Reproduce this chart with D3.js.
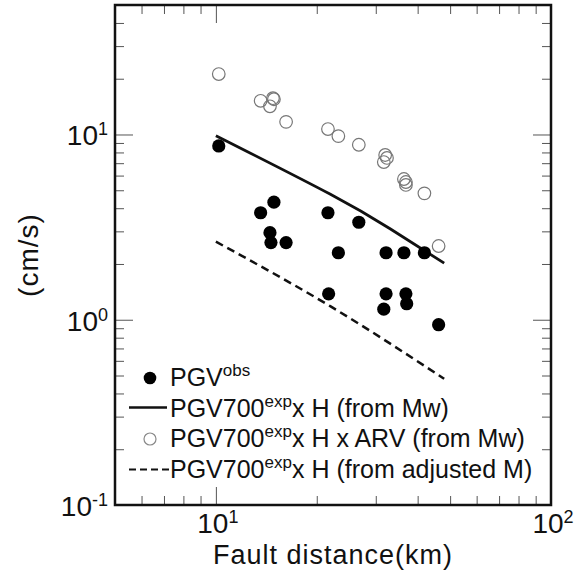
<!DOCTYPE html>
<html>
<head>
<meta charset="utf-8">
<script src="https://cdn.jsdelivr.net/npm/d3@7"></script>
<style>
  body { margin: 0; background: #fff; }
  svg text { font-family: Arial, "Liberation Sans", sans-serif; fill: #111; }
</style>
</head>
<body>
<script>
// observed PGV (filled circles)
var obsDist = [10.2, 13.6, 14.9, 14.5, 14.6, 16.2, 21.6, 23.2, 26.7, 32.2, 36.4, 41.9, 21.7, 32.2, 36.9, 37.1, 31.7, 46.2]
var obsPGV  = [8.67, 3.78, 4.31, 2.95, 2.61, 2.61, 3.78, 2.30, 3.36, 2.30, 2.30, 2.30, 1.38, 1.38, 1.38, 1.22, 1.14, 0.94]

// PGV700exp x H x ARV (open circles)
var arvDist = [10.2, 13.6, 14.8, 14.9, 14.5, 16.2, 21.6, 23.2, 26.7, 32.0, 31.7, 32.4, 36.4, 36.9, 36.9, 41.9, 46.2]
var arvPGV  = [21.2, 15.2, 15.7, 15.5, 14.2, 11.7, 10.7, 9.8, 8.8, 7.75, 7.1, 7.47, 5.75, 5.54, 5.34, 4.81, 2.50]

// PGV700exp x H from Mw (solid line)
var mwDist = [10, 21.9, 33.1, 48]
var mwPGV  = [9.85, 4.77, 3.1, 2.02]

// PGV700exp x H from adjusted M (dashed line)
var adjDist = [10, 22, 48]
var adjPGV  = [2.64, 1.18, 0.48]

var xMajor = [10, 100]
var xMinor = [6, 7, 8, 9, 20, 30, 40, 50, 60, 70, 80, 90]
var yMajor = [0.1, 1, 10]
var yMinor = [0.2, 0.3, 0.4, 0.5, 0.6, 0.7, 0.8, 0.9, 2, 3, 4, 5, 6, 7, 8, 9, 20, 30, 40]

var legendLabels = [
  ["PGV", "obs", ""],
  ["PGV700", "exp", "x H (from Mw)"],
  ["PGV700", "exp", "x H x ARV (from Mw)"],
  ["PGV700", "exp", "x H (from adjusted M)"]
]

var width = 584
var height = 574
var plotL = 115, plotR = 551, plotT = 5, plotB = 505

var svg = d3.select("body")
            .append("svg")
            .attr("width", width)
            .attr("height", height)

var xScale = d3.scaleLog()
               .domain([5, 100])
               .range([plotL, plotR])

var yScale = d3.scaleLog()
               .domain([0.1, 50])
               .range([plotB, plotT])

// ticks, inward on all four sides
var drawTicks = function(axis, values, size, transform){
  var g = svg.append("g")
             .attr("class", "axis")
             .attr("transform", transform)
             .call(axis.tickValues(values)
                       .tickSize(-size)
                       .tickFormat(""))
  g.select(".domain").remove()
  g.selectAll("line").attr("stroke", "#555").attr("stroke-width", 1)
}

drawTicks(d3.axisBottom(xScale), xMinor, 9, "translate(0," + plotB + ")")
drawTicks(d3.axisBottom(xScale), [10], 18, "translate(0," + plotB + ")")
drawTicks(d3.axisTop(xScale), xMinor, 9, "translate(0," + plotT + ")")
drawTicks(d3.axisTop(xScale), [10], 18, "translate(0," + plotT + ")")
drawTicks(d3.axisLeft(yScale), yMinor, 9, "translate(" + plotL + ",0)")
drawTicks(d3.axisLeft(yScale), [1, 10], 18, "translate(" + plotL + ",0)")
drawTicks(d3.axisRight(yScale), yMinor, 9, "translate(" + plotR + ",0)")
drawTicks(d3.axisRight(yScale), [1, 10], 18, "translate(" + plotR + ",0)")

// frame
svg.append("rect")
   .attr("x", plotL)
   .attr("y", plotT)
   .attr("width", plotR - plotL)
   .attr("height", plotB - plotT)
   .attr("fill", "none")
   .attr("stroke", "#111")
   .attr("stroke-width", 2.5)

// tick labels with superscript exponents
var powerLabel = function(sel){
  sel.append("tspan").text("10")
  sel.append("tspan")
     .attr("dy", -10)
     .attr("font-size", 18)
     .text(function(d){ return String(Math.round(Math.log10(d))) })
}

svg.selectAll(".xlab")
   .data(xMajor)
   .enter()
   .append("text")
   .attr("class", "xlab")
   .attr("x", function(d){ return xScale(d) + 2 })
   .attr("y", 533)
   .attr("text-anchor", "middle")
   .attr("font-size", 28)
   .call(powerLabel)

svg.selectAll(".ylab")
   .data(yMajor)
   .enter()
   .append("text")
   .attr("class", "ylab")
   .attr("x", 108)
   .attr("y", function(d){ return yScale(d) + 11 })
   .attr("text-anchor", "end")
   .attr("font-size", 28)
   .call(powerLabel)

// axis titles
svg.append("text")
   .attr("x", (plotL + plotR) / 2)
   .attr("y", 564)
   .attr("text-anchor", "middle")
   .attr("font-size", 27)
   .attr("letter-spacing", 1)
   .text("Fault distance(km)")

svg.append("text")
   .attr("transform", "translate(38," + ((plotT + plotB) / 2) + ") rotate(-90)")
   .attr("text-anchor", "middle")
   .attr("font-size", 28)
   .attr("letter-spacing", 1)
   .text("(cm/s)")

// lines
var line = d3.line()
             .curve(d3.curveNatural)
             .x(function(d){ return xScale(d[0]) })
             .y(function(d){ return yScale(d[1]) })

svg.append("path")
   .datum(d3.zip(mwDist, mwPGV))
   .attr("d", line)
   .attr("fill", "none")
   .attr("stroke", "#111")
   .attr("stroke-width", 2.8)

svg.append("path")
   .datum(d3.zip(adjDist, adjPGV))
   .attr("d", line)
   .attr("fill", "none")
   .attr("stroke", "#111")
   .attr("stroke-width", 2.5)
   .attr("stroke-dasharray", "8,5")

// open circles
svg.selectAll(".arv")
   .data(d3.zip(arvDist, arvPGV))
   .enter()
   .append("circle")
   .attr("class", "arv")
   .attr("cx", function(d){ return xScale(d[0]) })
   .attr("cy", function(d){ return yScale(d[1]) })
   .attr("r", 6.3)
   .attr("fill", "none")
   .attr("stroke", "#777")
   .attr("stroke-width", 1.2)

// filled circles
svg.selectAll(".obs")
   .data(d3.zip(obsDist, obsPGV))
   .enter()
   .append("circle")
   .attr("class", "obs")
   .attr("cx", function(d){ return xScale(d[0]) })
   .attr("cy", function(d){ return yScale(d[1]) })
   .attr("r", 6.6)
   .attr("fill", "#000")

// legend
var legY = [386, 416.5, 447, 477.5]
var leg = svg.append("g")

leg.append("circle").attr("cx", 150).attr("cy", legY[0] - 8).attr("r", 6.3).attr("fill", "#000")
leg.append("line").attr("x1", 129).attr("x2", 167).attr("y1", legY[1] - 9).attr("y2", legY[1] - 9)
   .attr("stroke", "#111").attr("stroke-width", 2.5)
leg.append("circle").attr("cx", 150).attr("cy", legY[2] - 8).attr("r", 6).attr("fill", "none")
   .attr("stroke", "#888").attr("stroke-width", 1.2)
leg.append("line").attr("x1", 129).attr("x2", 169).attr("y1", legY[3] - 8).attr("y2", legY[3] - 8)
   .attr("stroke", "#111").attr("stroke-width", 2).attr("stroke-dasharray", "7,4")

leg.selectAll("text")
   .data(legendLabels)
   .enter()
   .append("text")
   .attr("x", 170)
   .attr("y", function(d, i){ return legY[i] })
   .attr("font-size", 25)
   .each(function(d){
     var t = d3.select(this)
     t.append("tspan").text(d[0])
     t.append("tspan").attr("dy", -10).attr("font-size", 17).text(d[1])
     t.append("tspan").attr("dy", 10).text(d[2])
   })
</script>
</body>
</html>
